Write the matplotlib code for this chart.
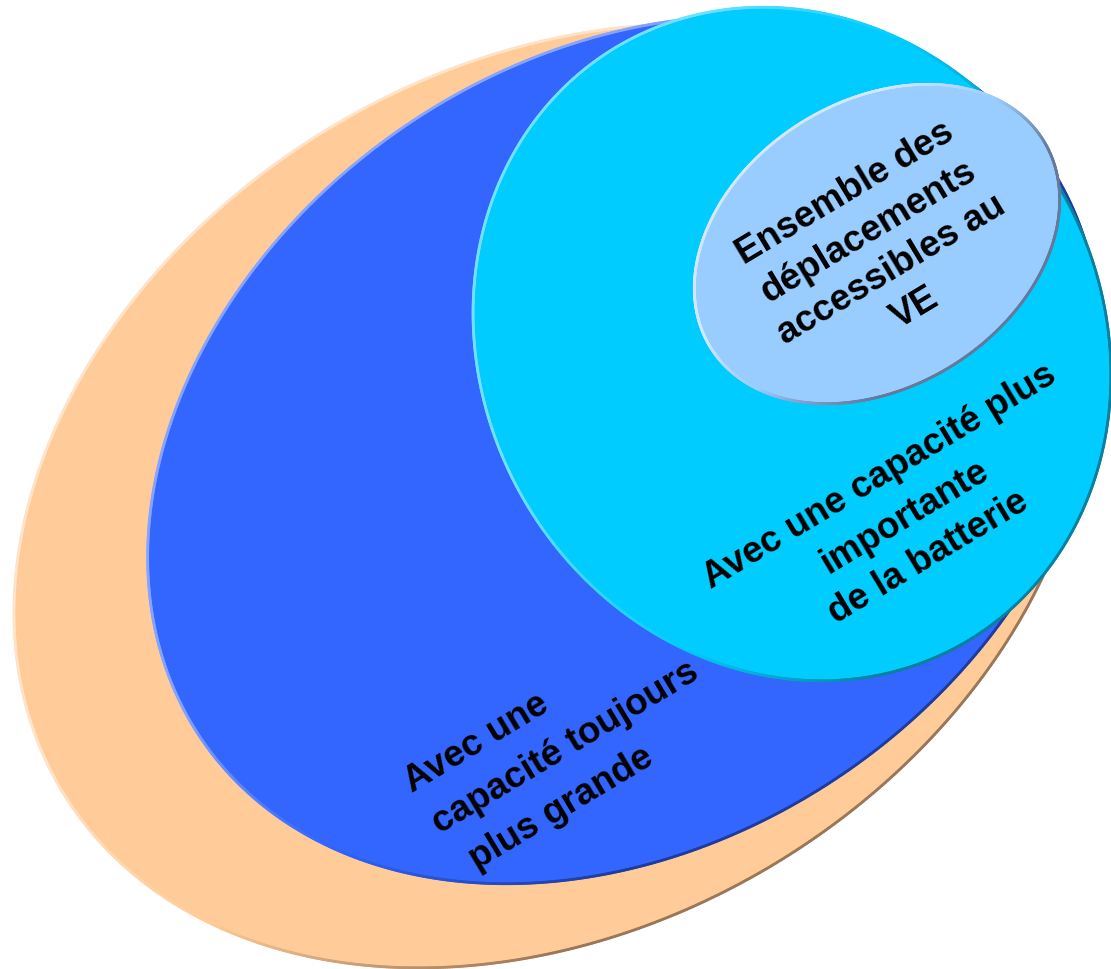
import numpy as np
import matplotlib
matplotlib.use('Agg')
import matplotlib.pyplot as plt
from matplotlib.patches import Ellipse
from matplotlib.collections import LineCollection
from matplotlib.colors import to_rgb

plt.rcParams['font.family'] = ['Liberation Sans', 'DejaVu Sans']

# ensembles emboîtés, du plus grand au plus petit
labels = ['',
          'Avec une\ncapacité toujours\nplus grande',
          'Avec une capacité plus\nimportante\nde la batterie',
          'Ensemble des\ndéplacements\naccessibles au\nVE']
fill_colors = ['#FFCC99', '#3366FF', '#00CCFF', '#99CCFF']
light_edges = ['#FFE3C8', '#86A3FF', '#70E2FF', '#D2E8FF']
dark_edges = ['#9A7758', '#1E3C9E', '#08809E', '#66799A']

# géométrie en pixels (y vers le bas) : centre, demi-axes, inclinaison
centers = [(552, 497), (624, 451), (792, 345), (877, 245)]
semi_axes = [(572, 430), (512, 391), (345, 310), (196, 143)]
tilts = [31, 34.6, -60.3, 32]

# texte : point d'ancrage de la 1re ligne, alignement, interligne, retraits
text_anchor = [None, (412, 793), (885, 485), (850, 201)]
text_align = [None, 'left', 'center', 'center']
line_steps = [None, 50, 47, 45]
indents = [None, [0, 3, 16], [0, 0, 0], [0, 0, 0, 0]]
text_rot = 31

light_dir = np.array([-0.9, -0.44]) / np.hypot(0.9, 0.44)


def blend(c1, c2, f):
    c1 = np.array(to_rgb(c1))
    c2 = np.array(to_rgb(c2))
    return c1 + (c2 - c1) * f


def shaded_edge(ax, c, ab, tilt, fill, light, dark, z, lw=2.0):
    t = np.radians(tilt)
    a, b = ab
    u = np.array([np.cos(t), -np.sin(t)])
    v = np.array([np.sin(t), np.cos(t)])
    phi = np.linspace(0, 2 * np.pi, 1441)
    px = c[0] + a * np.cos(phi) * u[0] + b * np.sin(phi) * v[0]
    py = c[1] + a * np.cos(phi) * u[1] + b * np.sin(phi) * v[1]
    nx = np.cos(phi) / a * u[0] + np.sin(phi) / b * v[0]
    ny = np.cos(phi) / a * u[1] + np.sin(phi) / b * v[1]
    nn = np.hypot(nx, ny)
    s = (nx * light_dir[0] + ny * light_dir[1]) / nn  # >0 : côté éclairé
    pts = np.column_stack([px, py])
    segs = np.stack([pts[:-1], pts[1:]], axis=1)
    sm = 0.5 * (s[:-1] + s[1:])
    cols = []
    for val in sm:
        if val >= 0:
            cols.append(blend(fill, light, min(1, val * 1.6)))
        else:
            cols.append(blend(fill, dark, min(1, -val * 1.6)))
    ax.add_collection(LineCollection(segs, colors=cols, linewidths=lw,
                                     capstyle='round', zorder=z))


fig = plt.figure(figsize=(11.11, 9.70), dpi=100)
ax = fig.add_axes([0, 0, 1, 1])
ax.set_xlim(0, 1111)
ax.set_ylim(970, 0)
ax.axis('off')

for i in range(len(labels)):
    c = centers[i]
    a, b = semi_axes[i]
    ax.add_patch(Ellipse(c, 2 * a, 2 * b, angle=-tilts[i],
                         facecolor=fill_colors[i], edgecolor='none',
                         zorder=1 + 2 * i))
    shaded_edge(ax, c, (a, b), tilts[i], fill_colors[i],
                light_edges[i], dark_edges[i], z=2 + 2 * i)

r = np.radians(text_rot)
n = np.array([np.sin(r), np.cos(r)])     # vers la ligne suivante
d = np.array([np.cos(r), -np.sin(r)])    # le long de la ligne
for i in range(len(labels)):
    if not labels[i]:
        continue
    x0, y0 = text_anchor[i]
    for k, line in enumerate(labels[i].split('\n')):
        off = k * line_steps[i] * n + indents[i][k] * d
        ax.text(x0 + off[0], y0 + off[1], line,
                rotation=text_rot, rotation_mode='anchor',
                ha=text_align[i], va='baseline',
                fontsize=26.5, fontweight='bold', color='black', zorder=20)

fig.savefig('out.png', dpi=100)
